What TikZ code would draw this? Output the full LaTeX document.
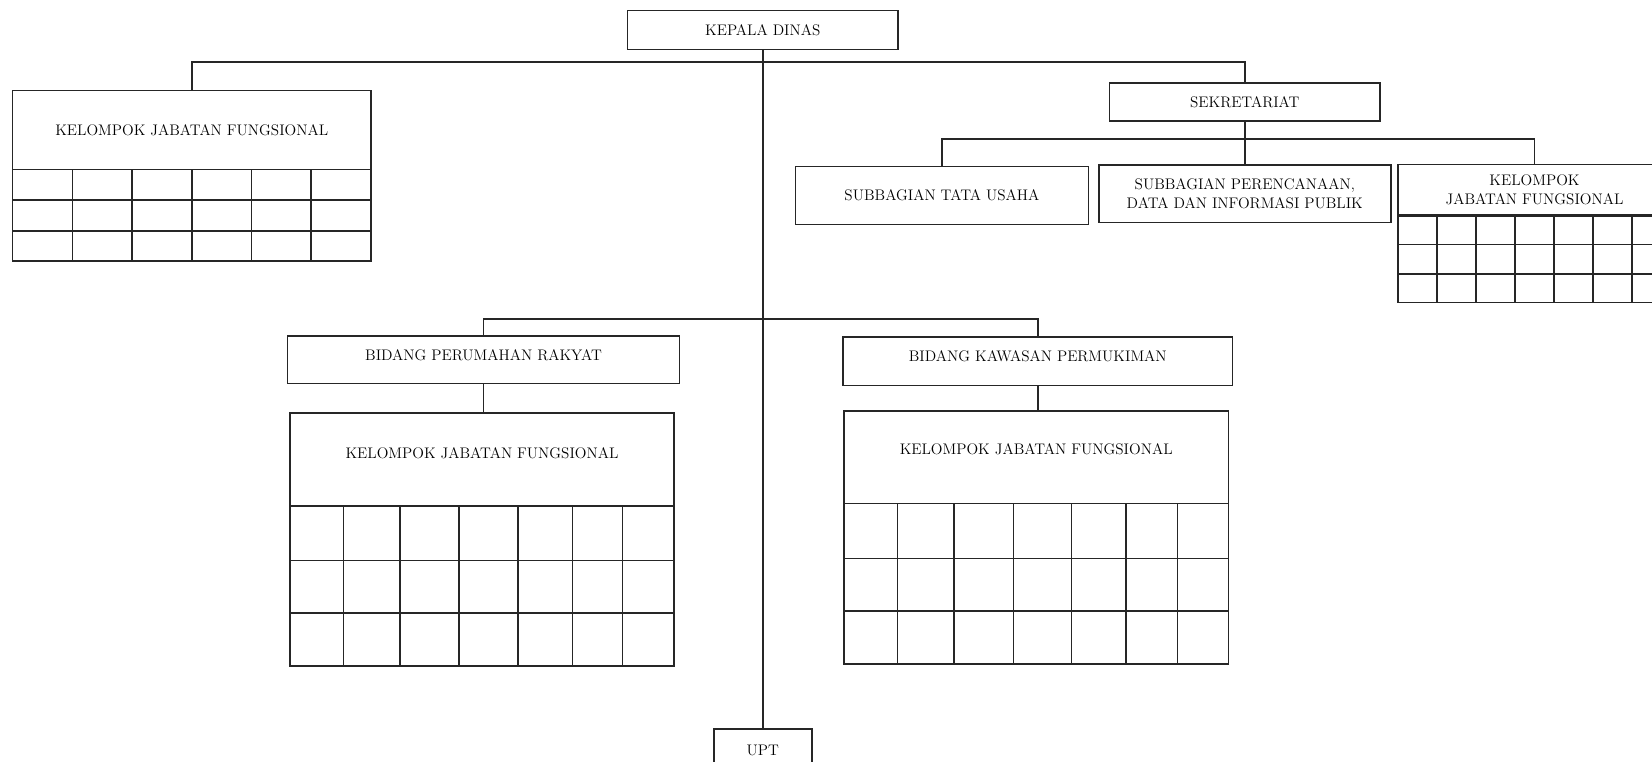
\documentclass[tikz,border=0pt]{standalone}
\usepackage{tikz}
\usetikzlibrary{calc}

\begin{document}
\begin{tikzpicture}[x=0.3mm, y=-0.3mm, color=black!85, line width=1.3pt,
    box/.style={rectangle, draw, align=center, inner sep=0pt, text=black,
        font=\fontsize{12.4}{15.5}\selectfont},
    lift/.style={text depth=#1}]
    \useasboundingbox (0,0) rectangle (1568,723);
    \clip (0,0) rectangle (1568,723);

    \node[box, minimum width=77.1mm, minimum height=11.1mm] (kadis) at (724,28.5) {KEPALA DINAS};

    \node[box, minimum width=102mm, minimum height=22.5mm] (kjfa) at (182,123.5) {KELOMPOK JABATAN FUNGSIONAL};

    \node[box, minimum width=77.1mm, minimum height=10.8mm] (sekre) at (1181.5,97) {SEKRETARIAT};

    \node[box, minimum width=83.4mm, minimum height=16.5mm] (tu) at (894,185.5) {SUBBAGIAN TATA USAHA};

    \node[box, minimum width=83.1mm, minimum height=16.35mm] (pdip) at (1181.5,183.75) {SUBBAGIAN PERENCANAAN,\\DATA DAN INFORMASI PUBLIK};

    \node[box, minimum width=77.7mm, minimum height=14.7mm] (kjfs) at (1456.5,180.5) {KELOMPOK\\JABATAN FUNGSIONAL};

    \node[box, lift=2.7mm, minimum width=111.6mm, minimum height=13.5mm] (bpr) at (459,341.5) {BIDANG PERUMAHAN RAKYAT};

    \node[box, lift=3.6mm, minimum width=109.5mm, minimum height=26.4mm] (kjfpr) at (457.5,436) {KELOMPOK JABATAN FUNGSIONAL};

    \node[box, lift=3mm, minimum width=111mm, minimum height=13.8mm] (bkp) at (985,343) {BIDANG KAWASAN PERMUKIMAN};

    \node[box, lift=4.8mm, minimum width=109.5mm, minimum height=26.4mm] (kjfkp) at (983.5,434) {KELOMPOK JABATAN FUNGSIONAL};

    \node[box, minimum width=27.9mm, minimum height=12mm] (upt) at (724,712) {UPT};

    % tabel jabatan fungsional
    \draw (12,161) rectangle (352,248);
    \foreach \y in {190,219} \draw (12,\y) -- (352,\y);
    \foreach \x in {68.7,125.3,182,238.7,295.3} \draw (\x,161) -- (\x,248);

    \draw (1327,204) rectangle (1586,287);
    \foreach \y in {232,260} \draw (1327,\y) -- (1586,\y);
    \foreach \x in {1364,1401,1438,1475,1512,1549} \draw (\x,204) -- (\x,287);

    \draw (275,480) rectangle (640,632);
    \foreach \y in {532,582} \draw (275,\y) -- (640,\y);
    \foreach \x in {326,379.5,435.5,491.5,543.5,591} \draw (\x,480) -- (\x,632);

    \draw (801,478) rectangle (1166,630);
    \foreach \y in {530,580} \draw (801,\y) -- (1166,\y);
    \foreach \x in {852,905.5,962,1017,1069,1117.5} \draw (\x,478) -- (\x,630);

    % garis hubung
    \coordinate (topbar) at (724,59);
    \coordinate (sekbar) at (1181.5,132);
    \coordinate (bidbar) at (724,303);

    \draw[-] (kadis) -- (upt);
    \draw[-] (kjfa.north) |- (topbar) -| (sekre.north);

    \draw[-] (sekre) -- (pdip);
    \draw[-] (tu.north) |- (sekbar) -| (kjfs.north);

    \draw[-] (bpr.north) |- (bidbar) -| (bkp.north);
    \draw[-] (bpr.south) -- (bpr.south |- kjfpr.north);
    \draw[-] (bkp.south) -- (bkp.south |- kjfkp.north);

\end{tikzpicture}
\end{document}
